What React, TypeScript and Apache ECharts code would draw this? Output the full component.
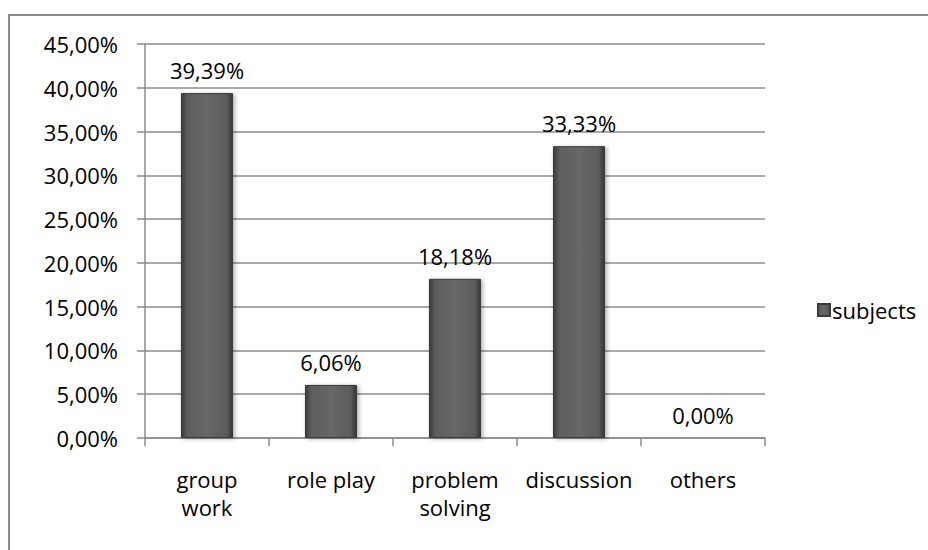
import React, { useEffect, useRef } from "react";
import * as echarts from "echarts";

const categories = ["group\nwork", "role play", "problem\nsolving", "discussion", "others"];
const values = [39.39, 6.06, 18.18, 33.33, 0.0];
const seriesName = "subjects";
const yMin = 0;
const yMax = 45;
const yStep = 5;

const fmt = (v: number) => v.toFixed(2).replace(".", ",") + "%";
const FONT = "'Open Sans', sans-serif";
const FS = 22;

export default function App() {
  const ref = useRef<HTMLDivElement>(null);
  useEffect(() => {
    document.body.style.margin = "0";
    const chart = echarts.init(ref.current!, undefined, { renderer: "svg" });
    const barColor = new echarts.graphic.LinearGradient(0, 0, 1, 0, [
      { offset: 0, color: "#3c3c3c" },
      { offset: 0.12, color: "#5e5e5e" },
      { offset: 0.5, color: "#676767" },
      { offset: 0.88, color: "#5c5c5c" },
      { offset: 1, color: "#363636" },
    ]);
    chart.setOption({
      animation: false,
      backgroundColor: "#ffffff",
      textStyle: { fontFamily: FONT },
      graphic: [
        {
          type: "rect",
          shape: { x: 9, y: 15, width: 940, height: 560 },
          style: { fill: "none", stroke: "#8c8c8c", lineWidth: 2 },
          silent: true,
        },
      ],
      grid: { left: 145, right: 163, top: 44, bottom: 112 },
      legend: {
        data: [seriesName],
        left: 812,
        top: 294,
        itemWidth: 12,
        itemHeight: 12,
        itemGap: 4,
        icon: "rect",
        textStyle: { fontSize: FS, color: "#000", fontFamily: FONT, padding: [0, 0, 0, -3] },
      },
      xAxis: {
        type: "category",
        data: categories,
        axisLine: { lineStyle: { color: "#8c8c8c", width: 1.5 } },
        axisTick: { show: true, length: 8, lineStyle: { color: "#8c8c8c", width: 1.5 } },
        axisLabel: {
          color: "#000",
          fontSize: FS,
          fontFamily: FONT,
          margin: 27,
          lineHeight: 28,
          interval: 0,
        },
      },
      yAxis: {
        type: "value",
        min: yMin,
        max: yMax,
        interval: yStep,
        axisLine: { show: true, lineStyle: { color: "#8c8c8c", width: 1.5 } },
        axisTick: { show: true, length: 8, lineStyle: { color: "#8c8c8c", width: 1.5 } },
        splitLine: { lineStyle: { color: "#8c8c8c", width: 1.5 } },
        axisLabel: {
          color: "#000",
          fontSize: FS,
          fontFamily: FONT,
          margin: 27,
          formatter: (v: number) => fmt(v),
        },
      },
      series: [
        {
          name: seriesName,
          type: "bar",
          data: values,
          barWidth: "42%",
          itemStyle: {
            color: barColor,
            borderColor: "#3a3a3a",
            borderWidth: 1,
            shadowColor: "rgba(0,0,0,0.3)",
            shadowBlur: 4,
            shadowOffsetX: 2,
            shadowOffsetY: 1,
          },
          label: {
            show: true,
            position: "top",
            distance: 12,
            color: "#000",
            fontSize: FS,
            fontFamily: FONT,
            formatter: (p: any) => fmt(p.value),
          },
        },
      ],
    });
    return () => chart.dispose();
  }, []);
  return <div ref={ref} style={{ width: 928, height: 550 }} />;
}
